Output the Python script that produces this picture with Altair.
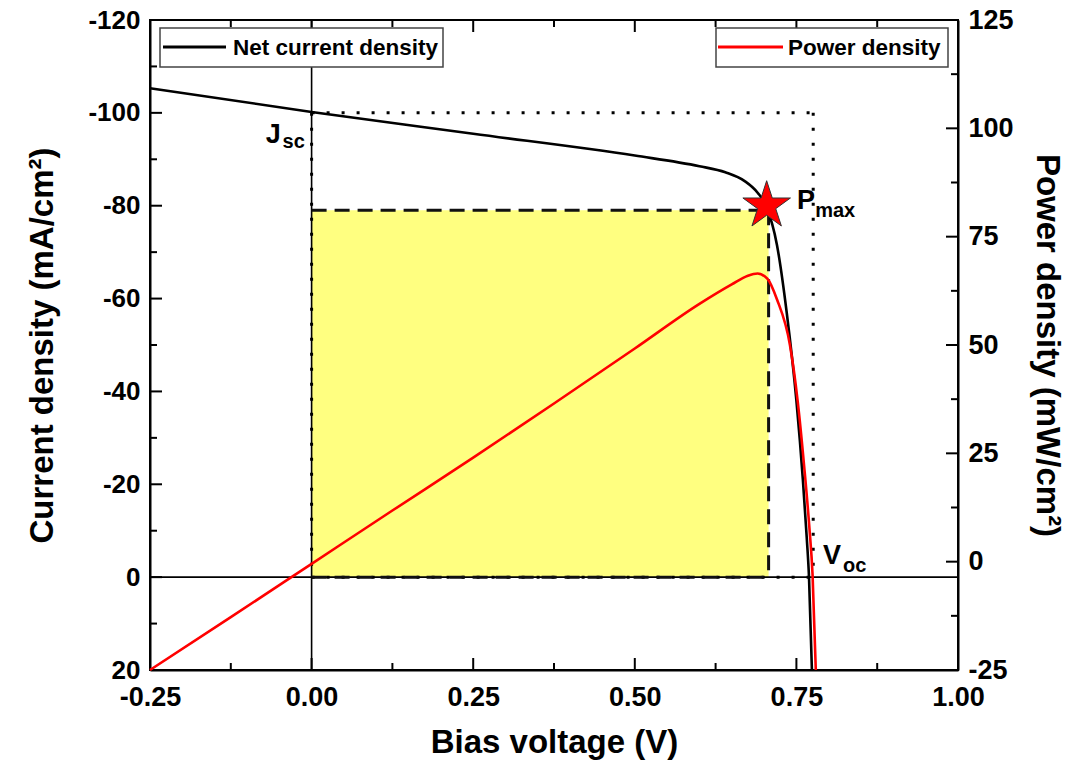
import altair as alt
import pandas as pd

# ---------------- data ----------------
V_J = [-0.25, 0.0, 0.25, 0.5, 0.6, 0.64, 0.67, 0.69, 0.703, 0.72, 0.735, 0.75, 0.76, 0.766, 0.7695, 0.774]
J_VAL = [-105.3, -100.2, -95.5, -90.8, -88.5, -87.2, -85.3, -82.8, -80.0, -71.5, -57.0, -38.0, -21.0, -8.5, 0.0, 20.0]

V_P = [-0.25, -0.125, 0.0, 0.125, 0.25, 0.375, 0.5, 0.6, 0.65, 0.675, 0.69, 0.705, 0.72, 0.74, 0.752, 0.762, 0.77, 0.775, 0.78]
P_VAL = [-25.0, -12.8, -0.5, 11.8, 24.0, 36.5, 49.2, 59.5, 64.0, 66.0, 66.5, 65.3, 60.5, 50.0, 37.0, 22.0, 8.0, -3.0, -25.0]

JSC = -100.0
VOC = 0.776
VMP = 0.707
JMP = -79.0
STAR_V = 0.704
STAR_J = -80.0

X_DOMAIN = [-0.25, 1.0]
J_DOMAIN = [-120, 20]
P_DOMAIN = [-25, 125]

X_LABELS = [-0.25, 0.0, 0.25, 0.5, 0.75, 1.0]
X_MINOR = [-0.125, 0.125, 0.375, 0.625, 0.875]
J_LABELS = [-120, -100, -80, -60, -40, -20, 0, 20]
J_MINOR = [-110, -90, -70, -50, -30, -10, 10]
P_LABELS = [-25, 0, 25, 50, 75, 100, 125]
P_MINOR = [-12.5, 12.5, 37.5, 62.5, 87.5, 112.5]

MAIN_LABELS = [
    {"t": "J", "V": -0.071, "J": -93.6},
    {"t": "P", "V": 0.751, "J": -79.3},
    {"t": "V", "V": 0.791, "J": -2.8},
]
SUB_LABELS = [
    {"t": "sc", "V": -0.045, "J": -92.4},
    {"t": "max", "V": 0.779, "J": -77.6},
    {"t": "oc", "V": 0.822, "J": -1.2},
]

FONT = "Liberation Sans"
W, H = 808, 650

STAR = ("M0,-1L0.2245,-0.309L0.951,-0.309L0.363,0.118L0.588,0.809L0,0.382"
        "L-0.588,0.809L-0.363,0.118L-0.951,-0.309L-0.2245,-0.309Z")

xs = alt.Scale(domain=X_DOMAIN, nice=False, zero=False)
js = alt.Scale(domain=J_DOMAIN, reverse=True, nice=False, zero=False)
ps = alt.Scale(domain=P_DOMAIN, nice=False, zero=False)

HYPHEN = "replace(datum.label, '\u2212', '-')"
axis_common = dict(
    ticks=False, grid=False, labelFont=FONT, labelFontWeight="bold",
    labelColor="black", titleFont=FONT, titleFontSize=33, titleFontWeight="bold",
    titleColor="black", domainColor="black", domainWidth=2, labelFlush=False,
    labelExpr=HYPHEN,
)
X_AXIS = alt.Axis(title="Bias voltage (V)", values=X_LABELS, format=".2f", labelFontSize=27,
                  labelPadding=14, titlePadding=16, **axis_common)
J_AXIS = alt.Axis(orient="left", title="Current density (mA/cm²)", values=J_LABELS, format="d",
                  labelFontSize=26, labelPadding=10, titlePadding=28, **axis_common)
P_AXIS = alt.Axis(orient="right", title="Power density (mW/cm²)", values=P_LABELS, format="d",
                  labelFontSize=27, labelPadding=10, titlePadding=16, **axis_common)

jv = pd.DataFrame({"V": V_J, "J": J_VAL})
pv = pd.DataFrame({"V": V_P, "P": P_VAL})
one = alt.Data(values=[{"a": 1}])


def X(field="V"):
    return alt.X(field, type="quantitative", scale=xs, axis=X_AXIS)


def Yj(field="J"):
    return alt.Y(field, type="quantitative", scale=js, axis=J_AXIS)


def Yp(field="P"):
    return alt.Y(field, type="quantitative", scale=ps, axis=P_AXIS)


# yellow rectangle
rect_df = pd.DataFrame({"V": [0.0], "V2": [VMP], "J": [0.0], "J2": [JMP]})
yellow = alt.Chart(rect_df).mark_rect(color="#FFFF80").encode(
    x=X("V"), x2="V2", y=Yj("J"), y2="J2")

# dotted Jsc/Voc box
dot_df = pd.DataFrame({
    "V": [0.0, VOC, 0.0, 0.0],
    "V2": [VOC, VOC, VOC, 0.0],
    "J": [JSC, JSC, 0.0, JSC],
    "J2": [JSC, 0.0, 0.0, 0.0],
})
dotted = alt.Chart(dot_df).mark_rule(color="black", strokeWidth=3, strokeDash=[3, 12]).encode(
    x=X("V"), x2="V2", y=Yj("J"), y2="J2")

# dashed Pmax box
dash_df = pd.DataFrame({
    "V": [0.0, VMP, 0.0],
    "V2": [VMP, VMP, VMP],
    "J": [JMP, JMP, 0.0],
    "J2": [JMP, 0.0, 0.0],
})
dashed = alt.Chart(dash_df).mark_rule(color="#111", strokeWidth=3, strokeDash=[15, 8]).encode(
    x=X("V"), x2="V2", y=Yj("J"), y2="J2")

# zero lines
zero_df = pd.DataFrame({"V": [0.0], "J": [0.0]})
zero_v = alt.Chart(zero_df).mark_rule(color="black", strokeWidth=1.6).encode(x=X("V"))
zero_h = alt.Chart(zero_df).mark_rule(color="black", strokeWidth=1.6).encode(y=Yj("J"))

# net current density curve
jline = alt.Chart(jv).mark_line(color="black", strokeWidth=2.6, interpolate="monotone").encode(
    x=X("V"), y=Yj("J"))

# star
star_df = pd.DataFrame({"V": [STAR_V], "J": [STAR_J]})
star = alt.Chart(star_df).mark_point(shape=STAR, size=2500, filled=True, fill="#FF0000",
                                     stroke="#333333", strokeWidth=1, opacity=1).encode(
    x=X("V"), y=Yj("J"))

# annotation labels
main_lab = alt.Chart(pd.DataFrame(MAIN_LABELS)).mark_text(
    font=FONT, fontSize=27, fontWeight="bold", align="left", baseline="alphabetic", color="black"
).encode(x=X("V"), y=Yj("J"), text="t:N")
sub_lab = alt.Chart(pd.DataFrame(SUB_LABELS)).mark_text(
    font=FONT, fontSize=20, fontWeight="bold", align="left", baseline="alphabetic", color="black"
).encode(x=X("V"), y=Yj("J"), text="t:N")

# inward ticks: bottom / top / left
xt_major = pd.DataFrame({"V": X_LABELS})
xt_minor = pd.DataFrame({"V": X_MINOR})
jt_major = pd.DataFrame({"J": J_LABELS})
jt_minor = pd.DataFrame({"J": J_MINOR})
tick_style = dict(color="black", strokeWidth=2)
ticks = [
    alt.Chart(xt_major).mark_rule(**tick_style).encode(x=X("V"), y=alt.value(H), y2=alt.value(H - 12)),
    alt.Chart(xt_minor).mark_rule(**tick_style).encode(x=X("V"), y=alt.value(H), y2=alt.value(H - 7)),
    alt.Chart(xt_major).mark_rule(**tick_style).encode(x=X("V"), y=alt.value(0), y2=alt.value(12)),
    alt.Chart(xt_minor).mark_rule(**tick_style).encode(x=X("V"), y=alt.value(0), y2=alt.value(7)),
    alt.Chart(jt_major).mark_rule(**tick_style).encode(y=Yj("J"), x=alt.value(0), x2=alt.value(12)),
    alt.Chart(jt_minor).mark_rule(**tick_style).encode(y=Yj("J"), x=alt.value(0), x2=alt.value(7)),
]

# legends (drawn boxes)
leg_box_style = dict(fill="white", stroke="#444444", strokeWidth=1.5)
legend = [
    alt.Chart(one).mark_rect(**leg_box_style).encode(
        x=alt.value(10), x2=alt.value(293), y=alt.value(8), y2=alt.value(47)),
    alt.Chart(one).mark_rule(color="black", strokeWidth=3).encode(
        x=alt.value(13), x2=alt.value(76), y=alt.value(27)),
    alt.Chart(one).mark_text(text="Net current density", font=FONT, fontSize=22.5, fontWeight="bold",
                             align="left", baseline="middle", color="black").encode(
        x=alt.value(83), y=alt.value(28)),
    alt.Chart(one).mark_rect(**leg_box_style).encode(
        x=alt.value(566), x2=alt.value(798), y=alt.value(8), y2=alt.value(47)),
    alt.Chart(one).mark_rule(color="#FF0000", strokeWidth=3).encode(
        x=alt.value(568), x2=alt.value(633), y=alt.value(27)),
    alt.Chart(one).mark_text(text="Power density", font=FONT, fontSize=22.5, fontWeight="bold",
                             align="left", baseline="middle", color="black").encode(
        x=alt.value(638), y=alt.value(28)),
]

j_layer = alt.layer(yellow, dotted, zero_v, zero_h, dashed, jline, *ticks,
                    star, main_lab, sub_lab, *legend)

# power density (right axis)
pline = alt.Chart(pv).mark_line(color="#FF0000", strokeWidth=2.6, interpolate="monotone").encode(
    x=X("V"), y=Yp("P"))
pt_major = pd.DataFrame({"P": P_LABELS})
pt_minor = pd.DataFrame({"P": P_MINOR})
p_ticks = [
    alt.Chart(pt_major).mark_rule(**tick_style).encode(
        y=Yp("P"), x=alt.value(W), x2=alt.value(W - 12)),
    alt.Chart(pt_minor).mark_rule(**tick_style).encode(
        y=Yp("P"), x=alt.value(W), x2=alt.value(W - 7)),
]
p_layer = alt.layer(pline, *p_ticks)

chart = alt.layer(j_layer, p_layer).resolve_scale(y="independent").properties(
    width=W, height=H,
    autosize=alt.AutoSizeParams(type="none"),
    padding={"left": 150, "top": 20, "right": 112, "bottom": 101},
    background="white",
).configure_view(stroke="black", strokeWidth=2)

chart.save("out.html", embed_options={"renderer": "svg", "actions": False})
